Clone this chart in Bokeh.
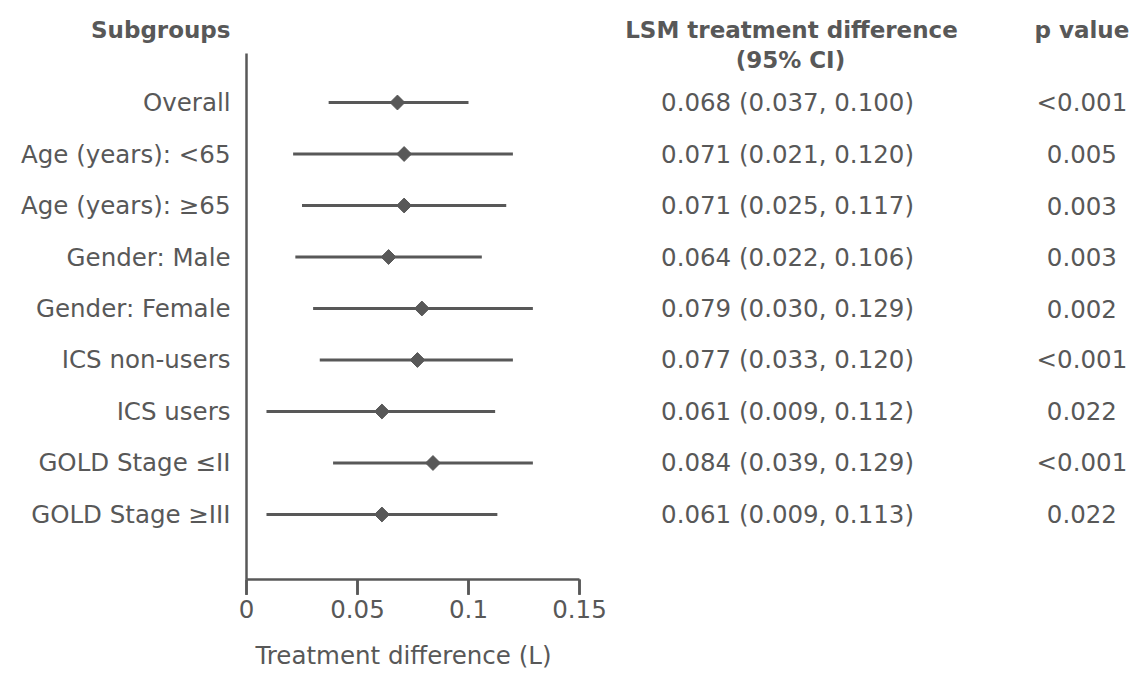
import math
from bokeh.plotting import figure
from bokeh.models import Range1d, ColumnDataSource, FixedTicker, NumeralTickFormatter
from bokeh.core.properties import value
from bokeh.embed import file_html
from bokeh.resources import INLINE

subgroups = ["Overall", "Age (years): <65", "Age (years): \u226565", "Gender: Male",
             "Gender: Female", "ICS non-users", "ICS users", "GOLD Stage \u2264II",
             "GOLD Stage \u2265III"]
estimate = [0.068, 0.071, 0.071, 0.064, 0.079, 0.077, 0.061, 0.084, 0.061]
ci_low = [0.037, 0.021, 0.025, 0.022, 0.030, 0.033, 0.009, 0.039, 0.009]
ci_high = [0.100, 0.120, 0.117, 0.106, 0.129, 0.120, 0.112, 0.129, 0.113]
p_values = ["<0.001", "0.005", "0.003", "0.003", "0.002", "<0.001", "0.022", "<0.001", "0.022"]
x_ticks = [0, 0.05, 0.1, 0.15]

FONT_NAME = "DejaVu Sans"
FONT = value(FONT_NAME)
COL = "#585858"
FS = "24.5px"
HFS = "23px"

rows = list(range(len(subgroups)))
ci_text = ["%.3f (%.3f, %.3f)" % (e, l, h) for e, l, h in zip(estimate, ci_low, ci_high)]
src = ColumnDataSource(dict(y=rows, label=subgroups, est=estimate, lo=ci_low, hi=ci_high,
                            ci=ci_text, p=p_values))

Y_AXIS = 9.262      # row-units position of the x axis line
TICK_LEN = 0.30     # tick length in row units
p = figure(frame_width=1129, frame_height=671, min_border=0,
           x_range=Range1d(-0.110811, 0.397748), y_range=Range1d(11.049, -1.981),
           output_backend="svg", toolbar_location=None, y_axis_location=None)
p.outline_line_color = None
p.grid.visible = False
p.background_fill_color = "white"
p.border_fill_color = "white"

# x axis, placed inside the frame
ax = p.xaxis[0]
ax.fixed_location = Y_AXIS
ax.bounds = (0, 0.15)
ax.ticker = FixedTicker(ticks=x_ticks, minor_ticks=[])
ax.formatter = NumeralTickFormatter(format="0.[00]")
ax.axis_line_color = COL
ax.axis_line_width = 2.5
ax.major_tick_line_color = COL
ax.major_tick_line_width = 2.5
ax.major_tick_out = 15
ax.major_tick_in = 0
ax.minor_tick_line_color = None
ax.major_label_text_font = FONT_NAME
ax.major_label_text_font_size = FS
ax.major_label_text_color = COL
ax.major_label_standoff = 6

# tick marks along the axis
p.segment(x0=x_ticks, y0=[Y_AXIS] * len(x_ticks), x1=x_ticks,
          y1=[Y_AXIS + TICK_LEN] * len(x_ticks), line_color=COL, line_width=2.5)

# axis title
p.text(x=[0.0707], y=[10.738], text=["Treatment difference (L)"], text_align="center",
       text_baseline="middle", text_font=FONT, text_font_size=FS, text_color=COL)

# vertical reference line at 0
p.segment(x0=[0], y0=[-0.951], x1=[0], y1=[Y_AXIS], line_color=COL, line_width=2.5)

# CI lines and estimates
p.segment(x0="lo", y0="y", x1="hi", y1="y", source=src, line_color=COL, line_width=2.8)
p.scatter(x="est", y="y", source=src, marker="square", angle=math.pi / 4, size=10.5,
          fill_color=COL, line_color=COL, line_width=1)

# left labels
p.text(x=-0.0072, y="y", text="label", source=src, text_align="right", text_baseline="middle",
       text_font=FONT, text_font_size=FS, text_color=COL)
# CI text column
p.text(x=0.2437, y="y", text="ci", source=src, text_align="center", text_baseline="middle",
       text_font=FONT, text_font_size=FS, text_color=COL)
# p value column
p.text(x=0.3763, y="y", text="p", source=src, text_align="center", text_baseline="middle",
       text_font=FONT, text_font_size=FS, text_color=COL)

# headers
p.text(x=[-0.0072], y=[-1.417], text=["Subgroups"], text_align="right", text_baseline="middle",
       text_font=FONT, text_font_size=HFS, text_font_style="bold", text_color=COL)
p.text(x=[0.2455, 0.2450], y=[-1.417, -0.816], text=["LSM treatment difference", "(95% CI)"],
       text_align="center", text_baseline="middle",
       text_font=FONT, text_font_size=HFS, text_font_style="bold", text_color=COL)
p.text(x=[0.3763], y=[-1.417], text=["p value"], text_align="center", text_baseline="middle",
       text_font=FONT, text_font_size=HFS, text_font_style="bold", text_color=COL)

open("out.html", "w").write(file_html(p, INLINE))
